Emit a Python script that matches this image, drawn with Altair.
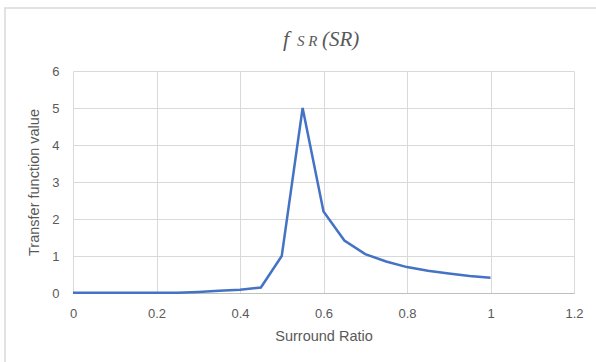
import altair as alt
import pandas as pd

surround_ratio = [0.0, 0.05, 0.1, 0.15, 0.2, 0.25, 0.3, 0.35, 0.4, 0.45, 0.5, 0.55,
                  0.6, 0.65, 0.7, 0.75, 0.8, 0.85, 0.9, 0.95, 1.0]
transfer_value = [0.01, 0.01, 0.01, 0.01, 0.01, 0.01, 0.03, 0.06, 0.09, 0.15, 1.0, 5.0,
                  2.2, 1.42, 1.05, 0.85, 0.70, 0.60, 0.53, 0.46, 0.41]
x_ticks = [0, 0.2, 0.4, 0.6, 0.8, 1.0, 1.2]
y_ticks = [0, 1, 2, 3, 4, 5, 6]

df = pd.DataFrame({"sr": surround_ratio, "v": transfer_value})

W, H = 501, 222
PL, PT = 73, 71

label_font = "Liberation Sans"
gray = "#595959"

line = alt.Chart(df).mark_line(color="#4472C4", strokeWidth=2.5, clip=False).encode(
    x=alt.X("sr:Q", scale=alt.Scale(domain=[0, 1.2], nice=False),
            axis=alt.Axis(values=x_ticks, title="Surround Ratio", labelFlush=False,
                          format="~g", grid=True, gridColor="#d9d9d9", domainColor="#bfbfbf",
                          domainWidth=1.2, ticks=True, tickSize=12, tickOpacity=0,
                          labelPadding=2, titlePadding=9,
                          labelFontSize=13, titleFontSize=14.5, labelColor=gray, titleColor=gray,
                          labelFont=label_font, titleFont=label_font, titleFontWeight="normal")),
    y=alt.Y("v:Q", scale=alt.Scale(domain=[0, 6], nice=False),
            axis=alt.Axis(values=y_ticks, title="Transfer function value",
                          grid=True, gridColor="#d9d9d9", domain=False,
                          ticks=False, labelAlign="right", labelBaseline="middle",
                          labelPadding=14, titlePadding=10,
                          labelFontSize=13, titleFontSize=14.5,
                          labelColor=gray, titleColor=gray, labelFont=label_font,
                          titleFont=label_font, titleFontWeight="normal")),
)

frame = alt.Chart(pd.DataFrame({"a": [0]})).mark_rect(
    fill=None, stroke="#d9d9d9", strokeWidth=1.5, clip=False
).encode(x=alt.value(5 - PL), y=alt.value(8 - PT), x2=alt.value(620 - PL), y2=alt.value(380 - PT))

title_df = pd.DataFrame({"a": [0]})
t_f = alt.Chart(title_df).mark_text(text="f", font="Liberation Serif", fontStyle="italic",
                                    fontSize=22, color=gray, align="left", baseline="alphabetic"
                                    ).encode(x=alt.value(283 - PL), y=alt.value(46 - PT))
t_sub = alt.Chart(title_df).mark_text(text="S R", font="Liberation Serif", fontStyle="italic",
                                      fontSize=15, color=gray, align="left", baseline="alphabetic"
                                      ).encode(x=alt.value(297 - PL), y=alt.value(46 - PT))
t_rest = alt.Chart(title_df).mark_text(text="(SR)", font="Liberation Serif", fontStyle="italic",
                                       fontSize=21, color=gray, align="left", baseline="alphabetic"
                                       ).encode(x=alt.value(322 - PL), y=alt.value(46 - PT))

chart = alt.layer(frame, line, t_f, t_sub, t_rest).properties(
    width=W, height=H,
    autosize=alt.AutoSizeParams(type="none"),
    padding={"left": PL, "top": PT, "right": 596 - PL - W, "bottom": 362 - PT - H},
    background="white",
).configure_view(stroke=None)

chart.save("out.html", embed_options={"renderer": "svg", "actions": False})
